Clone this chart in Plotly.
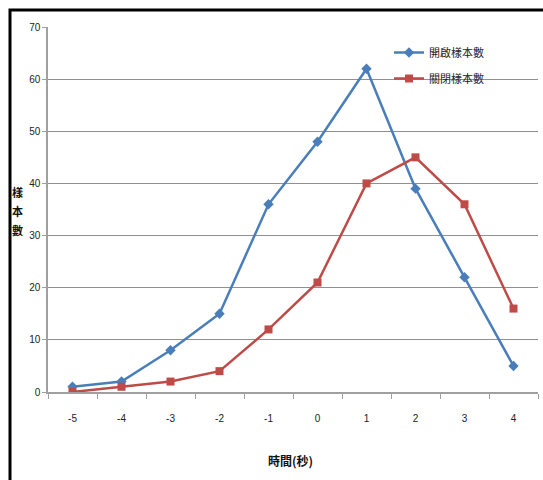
import plotly.graph_objects as go

# Time offset (seconds) and sample counts
time_labels = ["-5", "-4", "-3", "-2", "-1", "0", "1", "2", "3", "4"]
open_counts = [1, 2, 8, 15, 36, 48, 62, 39, 22, 5]
close_counts = [0, 1, 2, 4, 12, 21, 40, 45, 36, 16]
series_names = ["開啟樣本數", "關閉樣本數"]
y_ticks = [0, 10, 20, 30, 40, 50, 60, 70]

W, H = 543, 480
L, R, T, B = 48, 5, 27, 88
pw, ph = W - L - R, H - T - B

def px_x(p):
    return (p - L) / pw

def px_y(p):
    return (H - B - p) / ph

tick_font = dict(family="Liberation Sans Narrow, Arial Narrow, Liberation Sans, sans-serif", size=10, color="#222222")
cjk = "Noto Sans CJK TC, sans-serif"

fig = go.Figure()
fig.add_trace(go.Scatter(
    x=time_labels, y=open_counts, name=series_names[0], mode="lines+markers",
    line=dict(color="#4A7EBB", width=2.5),
    marker=dict(symbol="diamond", size=8, color="#4A7EBB"),
    legendgroup="a",
))
fig.add_trace(go.Scatter(
    x=time_labels, y=close_counts, name=series_names[1], mode="lines+markers",
    line=dict(color="#BE4B48", width=2.5),
    marker=dict(symbol="square", size=8, color="#BE4B48"),
    legendgroup="b",
))

fig.update_layout(
    width=W, height=H,
    margin=dict(l=L, r=R, t=T, b=B),
    paper_bgcolor="white", plot_bgcolor="white",
    showlegend=True,
    legend=dict(
        x=px_x(389), y=px_y(38), xanchor="left", yanchor="top",
        bgcolor="rgba(0,0,0,0)", font=dict(family=cjk, size=11, color="#222222"),
        traceorder="grouped", tracegroupgap=7, itemwidth=30,
    ),
    xaxis=dict(
        type="category", range=[-0.5, 9.5],
        showgrid=False, showline=True, linecolor="#A0A0A0", linewidth=1.5,
        ticks="outside", ticklen=5, tickcolor="#A0A0A0", tickson="boundaries",
        tickfont=tick_font, ticklabelstandoff=16,
    ),
    yaxis=dict(
        range=[0, 70], tickvals=y_ticks,
        showgrid=True, gridcolor="#909090", gridwidth=1,
        showline=True, linecolor="#A0A0A0", linewidth=1.5,
        ticks="outside", ticklen=4, tickcolor="#A0A0A0",
        tickfont=tick_font, zeroline=False,
    ),
)

# Axis titles
fig.add_annotation(
    x=px_x(290), y=px_y(460), xref="paper", yref="paper", showarrow=False,
    xanchor="center", yanchor="middle",
    text="<b>時間(秒)</b>", font=dict(family=cjk, size=12, color="#111111"),
)
for ch, yp in zip("樣本數", [192, 211, 230]):
    fig.add_annotation(
        x=px_x(17), y=px_y(yp), xref="paper", yref="paper", showarrow=False,
        xanchor="center", yanchor="middle",
        text=f"<b>{ch}</b>", font=dict(family=cjk, size=11, color="#111111"),
    )

# Frame lines along the top and left edges
fig.add_shape(
    type="path", xref="paper", yref="paper",
    path=f"M {px_x(10)} {px_y(490)} L {px_x(10)} {px_y(10)} L {px_x(560)} {px_y(10)}",
    line=dict(color="black", width=3),
)

fig.write_html("out.html")
